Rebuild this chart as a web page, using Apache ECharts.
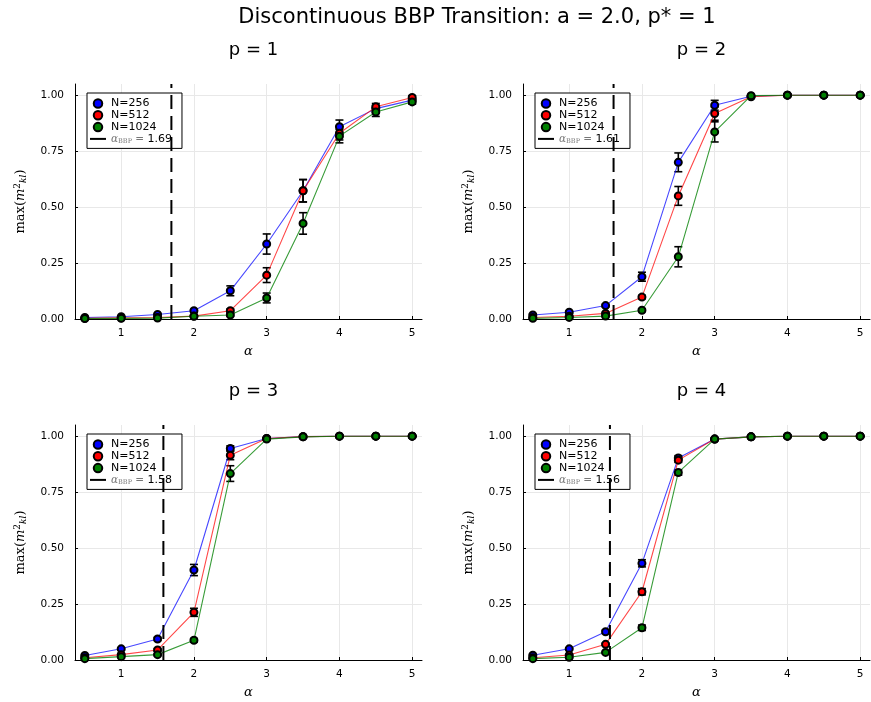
<!DOCTYPE html>
<html><head><meta charset="utf-8">
<script src="https://cdn.jsdelivr.net/npm/echarts@6/dist/echarts.min.js"></script>
<style>html,body{margin:0;padding:0;background:#fff}#c{width:871px;height:702px}</style>
</head><body><div id="c"></div>
<script>
const alpha = [0.5, 1, 1.5, 2, 2.5, 3, 3.5, 4, 4.5, 5];
const xTicks = [1, 2, 3, 4, 5];
const yTicks = [0, 0.25, 0.5, 0.75, 1.0];
const panelTitles = ['p = 1', 'p = 2', 'p = 3', 'p = 4'];
const vlines = [1.69, 1.61, 1.58, 1.56];
const seriesNames = ['N=256', 'N=512', 'N=1024'];

const p1_n256  = [0.007, 0.010, 0.020, 0.037, 0.126, 0.335, 0.573, 0.859, 0.940, 0.978];
const p1_n512  = [0.003, 0.005, 0.007, 0.013, 0.037, 0.196, 0.573, 0.830, 0.948, 0.990];
const p1_n1024 = [0.002, 0.003, 0.004, 0.012, 0.018, 0.094, 0.427, 0.817, 0.925, 0.970];
const p1_e256  = [0.002, 0.003, 0.004, 0.006, 0.022, 0.045, 0.050, 0.030, 0.015, 0.008];
const p1_e512  = [0.001, 0.002, 0.002, 0.004, 0.008, 0.033, 0.050, 0.030, 0.015, 0.008];
const p1_e1024 = [0.001, 0.001, 0.002, 0.003, 0.005, 0.022, 0.048, 0.030, 0.020, 0.010];

const p2_n256  = [0.018, 0.030, 0.060, 0.189, 0.700, 0.955, 0.995, 1, 1, 1];
const p2_n512  = [0.007, 0.012, 0.025, 0.098, 0.550, 0.918, 0.993, 1, 1, 1];
const p2_n1024 = [0.003, 0.007, 0.013, 0.039, 0.278, 0.836, 0.998, 1, 1, 1];
const p2_e256  = [0.003, 0.004, 0.006, 0.020, 0.042, 0.022, 0.003, 0, 0, 0];
const p2_e512  = [0.002, 0.003, 0.004, 0.008, 0.042, 0.030, 0.004, 0, 0, 0];
const p2_e1024 = [0.001, 0.002, 0.003, 0.006, 0.045, 0.045, 0.002, 0, 0, 0];

const p3_n256  = [0.020, 0.050, 0.094, 0.402, 0.945, 0.990, 0.998, 1, 1, 1];
const p3_n512  = [0.010, 0.024, 0.045, 0.213, 0.915, 0.990, 0.998, 1, 1, 1];
const p3_n1024 = [0.006, 0.015, 0.024, 0.088, 0.833, 0.987, 0.997, 1, 1, 1];
const p3_e256  = [0.003, 0.005, 0.007, 0.025, 0.012, 0.002, 0.001, 0, 0, 0];
const p3_e512  = [0.002, 0.004, 0.006, 0.018, 0.020, 0.003, 0.001, 0, 0, 0];
const p3_e1024 = [0.001, 0.002, 0.004, 0.008, 0.035, 0.003, 0.001, 0, 0, 0];

const p4_n256  = [0.021, 0.050, 0.126, 0.432, 0.903, 0.987, 0.997, 1, 1, 1];
const p4_n512  = [0.010, 0.022, 0.070, 0.305, 0.893, 0.987, 0.997, 1, 1, 1];
const p4_n1024 = [0.006, 0.012, 0.034, 0.144, 0.838, 0.987, 0.997, 1, 1, 1];
const p4_e256  = [0.002, 0.004, 0.007, 0.016, 0.010, 0.003, 0.001, 0, 0, 0];
const p4_e512  = [0.002, 0.003, 0.005, 0.014, 0.010, 0.003, 0.001, 0, 0, 0];
const p4_e1024 = [0.001, 0.002, 0.004, 0.012, 0.012, 0.003, 0.001, 0, 0, 0];

const panels = [
  { vals: [p1_n256, p1_n512, p1_n1024], errs: [p1_e256, p1_e512, p1_e1024] },
  { vals: [p2_n256, p2_n512, p2_n1024], errs: [p2_e256, p2_e512, p2_e1024] },
  { vals: [p3_n256, p3_n512, p3_n1024], errs: [p3_e256, p3_e512, p3_e1024] },
  { vals: [p4_n256, p4_n512, p4_n1024], errs: [p4_e256, p4_e512, p4_e1024] }
];

const fills = ['#0000ff', '#ff0000', '#008000'];
const lineCols = ['rgba(0,0,255,0.72)', 'rgba(255,0,0,0.72)', 'rgba(0,128,0,0.78)'];
const FONT = 'DejaVu Sans';

const grids = [
  { left: 75, top: 84, width: 347, height: 235 },
  { left: 523, top: 84, width: 347, height: 235 },
  { left: 75, top: 425, width: 347, height: 235 },
  { left: 523, top: 425, width: 347, height: 235 }
];

const chart = echarts.init(document.getElementById('c'), null, { renderer: 'canvas' });

const titles = [{
  text: 'Discontinuous BBP Transition: a = 2.0, p* = 1',
  left: 472, top: 2, textAlign: 'center',
  textStyle: { fontFamily: FONT, fontSize: 21, fontWeight: 'normal', color: '#000' }
}];
const xAxes = [], yAxes = [], series = [], legends = [];

grids.forEach((g, i) => {
  titles.push({
    text: panelTitles[i], left: g.left + g.width / 2, top: g.top - 48, textAlign: 'center',
    textStyle: { fontFamily: FONT, fontSize: 18, fontWeight: 'normal', color: '#000' }
  });
  xAxes.push({
    type: 'value', gridIndex: i, min: 0.365, max: 5.135,
    name: 'α', nameLocation: 'middle', nameGap: 26,
    nameTextStyle: { fontFamily: 'DejaVu Serif', fontStyle: 'italic', fontSize: 13, color: '#000' },
    axisLine: { show: true, onZero: false, lineStyle: { color: '#000', width: 1 } },
    axisTick: { show: true, inside: true, length: 3, customValues: xTicks, lineStyle: { color: '#000' } },
    axisLabel: { customValues: xTicks, fontFamily: FONT, fontSize: 10.5, color: '#000', margin: 9,
      formatter: v => String(v) },
    splitLine: { show: true, lineStyle: { color: '#e8e8e8', width: 1 } }
  });
  yAxes.push({
    type: 'value', gridIndex: i, min: 0, max: 1.05,
    name: '{t|max(}{i|m}{sp|2}{sb|kl}{t|)}', nameLocation: 'middle', nameGap: 47, nameRotate: 90,
    nameTextStyle: {
      rich: {
        t: { fontFamily: 'DejaVu Serif', fontSize: 13, color: '#000' },
        i: { fontFamily: 'DejaVu Serif', fontStyle: 'italic', fontSize: 13, color: '#000' },
        sp: { fontFamily: 'DejaVu Serif', fontSize: 9, color: '#000', verticalAlign: 'top', padding: [0, 0, 6, 0] },
        sb: { fontFamily: 'DejaVu Serif', fontStyle: 'italic', fontSize: 9, color: '#000', verticalAlign: 'bottom', padding: [5, 0, 0, 0] }
      }
    },
    axisLine: { show: true, onZero: false, lineStyle: { color: '#000', width: 1 } },
    axisTick: { show: true, inside: true, length: 3, customValues: yTicks, lineStyle: { color: '#000' } },
    axisLabel: { customValues: yTicks, fontFamily: FONT, fontSize: 10.5, color: '#000', margin: 11,
      formatter: v => v.toFixed(2) },
    splitLine: { show: true, lineStyle: { color: '#e8e8e8', width: 1 } }
  });

  const p = panels[i];
  p.vals.forEach((vals, k) => {
    const data = alpha.map((a, j) => [a, vals[j] - p.errs[k][j], vals[j] + p.errs[k][j]]);
    series.push({
      type: 'custom', xAxisIndex: i, yAxisIndex: i, z: 3, silent: true,
      data: data,
      renderItem: (params, api) => {
        const lo = api.coord([api.value(0), api.value(1)]);
        const hi = api.coord([api.value(0), api.value(2)]);
        const cw = 4;
        const st = { stroke: '#000', lineWidth: 1.6 };
        return { type: 'group', children: [
          { type: 'line', shape: { x1: lo[0], y1: lo[1], x2: hi[0], y2: hi[1] }, style: st },
          { type: 'line', shape: { x1: lo[0] - cw, y1: lo[1], x2: lo[0] + cw, y2: lo[1] }, style: st },
          { type: 'line', shape: { x1: hi[0] - cw, y1: hi[1], x2: hi[0] + cw, y2: hi[1] }, style: st }
        ]};
      }
    });
  });
  p.vals.forEach((vals, k) => {
    series.push({
      type: 'line', name: seriesNames[k], xAxisIndex: i, yAxisIndex: i, z: 4 + k,
      data: alpha.map((a, j) => [a, vals[j]]),
      symbol: 'circle', symbolSize: 7, showSymbol: true,
      lineStyle: { color: lineCols[k], width: 1.1 },
      itemStyle: { color: fills[k], borderColor: '#000', borderWidth: 2 },
      emphasis: { disabled: true }, animation: false
    });
  });
  const vname = 'vline' + i;
  series.push({
    type: 'line', name: vname, xAxisIndex: i, yAxisIndex: i, z: 8,
    data: [[vlines[i], 0], [vlines[i], 1.05]], symbol: 'none',
    lineStyle: { color: '#000', width: 2, type: [14, 7] },
    itemStyle: { color: '#000' }, animation: false
  });
  legends.push({
    orient: 'vertical', left: g.left + 12, top: g.top + 9,
    backgroundColor: '#fff', borderColor: '#000', borderWidth: 1, borderRadius: 0,
    padding: [5, 10, 4, 3], itemGap: 0.8, itemWidth: 16, itemHeight: 8.5,
    selectedMode: false,
    data: [
      { name: 'N=256', icon: 'circle' },
      { name: 'N=512', icon: 'circle' },
      { name: 'N=1024', icon: 'circle' },
      { name: vname, icon: 'path://M0,0h16v2h-16z' }
    ],
    formatter: n => n.startsWith('vline')
      ? '{a|α}{s|BBP}{b| = }{c|' + vlines[+n.slice(5)].toFixed(2) + '}'
      : n,
    textStyle: {
      fontFamily: FONT, fontSize: 11, color: '#000', padding: [0, 0, 0, 0],
      rich: {
        a: { fontFamily: 'DejaVu Serif', fontStyle: 'italic', fontSize: 10.5, color: '#777' },
        s: { fontFamily: 'DejaVu Serif', fontSize: 6.5, color: '#777', verticalAlign: 'bottom', padding: [3, 0, 0, 0] },
        b: { fontFamily: 'DejaVu Serif', fontSize: 10.5, color: '#777' },
        c: { fontFamily: FONT, fontSize: 11, color: '#000' }
      }
    }
  });
});

chart.setOption({
  animation: false,
  title: titles,
  grid: grids,
  xAxis: xAxes,
  yAxis: yAxes,
  legend: legends,
  series: series
});
</script>
</body></html>
